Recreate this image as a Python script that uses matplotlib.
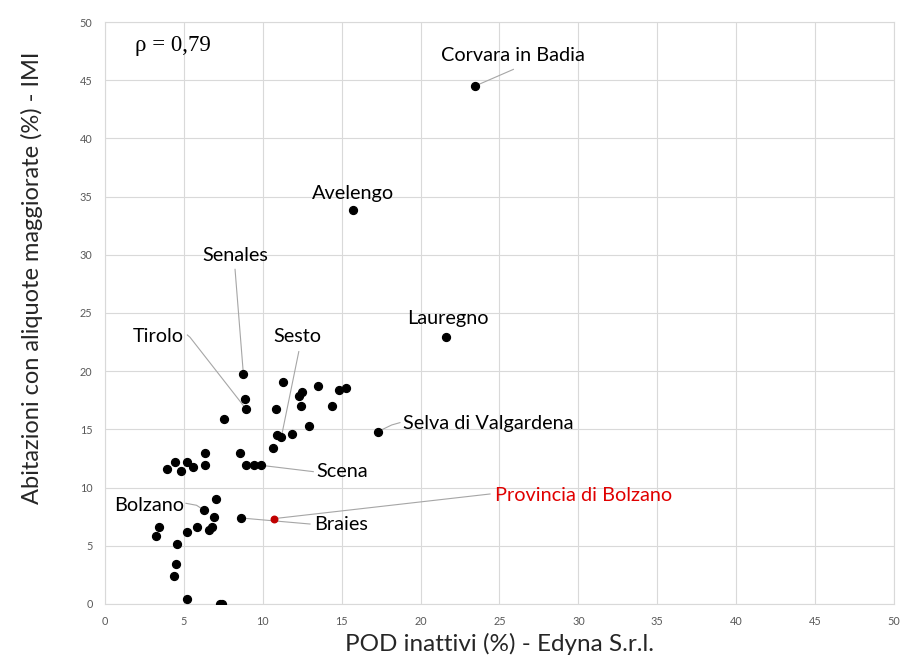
import matplotlib.pyplot as plt

# comuni: POD inattivi (%) vs abitazioni con aliquote maggiorate (%)
pod = [23.45, 15.72, 21.63, 17.28, 8.77, 8.87, 8.94, 7.54, 11.28, 12.27, 12.48, 13.52,
       14.81, 15.25, 10.84, 12.44, 14.40, 12.90, 10.88, 11.17, 11.85, 10.62, 8.55, 6.34,
       8.94, 9.46, 9.91, 3.91, 4.44, 4.79, 5.17, 5.60, 6.34, 7.03, 6.25, 6.93, 8.60,
       3.40, 3.21, 5.85, 6.76, 6.61, 5.22, 4.58, 4.48, 4.37, 5.17, 7.29, 7.43]
imi = [44.5, 33.85, 22.94, 14.80, 19.73, 17.58, 16.75, 15.89, 19.10, 17.90, 18.21, 18.73,
       18.41, 18.53, 16.75, 17.01, 17.01, 15.32, 14.52, 14.32, 14.58, 13.43, 13.00, 13.00,
       11.91, 11.91, 11.91, 11.60, 12.23, 11.40, 12.23, 11.74, 11.91, 9.02, 8.08, 7.50, 7.39,
       6.62, 5.87, 6.62, 6.62, 6.33, 6.19, 5.18, 3.41, 2.41, 0.46, 0.03, 0.03]

prov_x = 10.69
prov_y = 7.33

# etichette: nome, indice del punto, posizione testo
names = ["Corvara in Badia", "Avelengo", "Lauregno", "Selva di Valgardena", "Senales",
         "Tirolo", "Sesto", "Scena", "Braies", "Bolzano"]
idx = [0, 1, 2, 3, 4, 6, 19, 26, 36, 34]
lab_x = [25.86, 15.72, 21.70, 24.27, 8.24, 3.36, 12.17, 15.02, 14.95, 2.79]
lab_y = [47.16, 35.30, 24.54, 15.52, 29.90, 22.94, 22.94, 11.34, 6.79, 8.45]
# punti di attacco delle linee guida (None = nessuna linea)
lead = [[(25.88, 45.93)], None, None, [(18.69, 15.58), (18.17, 15.38)], [(8.24, 28.75)],
        [(5.22, 23.11), (5.39, 22.91)], [(12.28, 21.68)], [(13.2, 11.37)], [(12.99, 6.87)],
        [(5.13, 8.65), (5.8, 8.48)]]

plt.rcParams['font.family'] = ['Lato', 'DejaVu Sans']

fig = plt.figure(figsize=(9.03, 6.57), dpi=100)
ax = fig.add_axes([0.1163, 0.0807, 0.8737, 0.8858])

ax.set_xlim(0, 50)
ax.set_ylim(0, 50)
ax.set_xticks(range(0, 51, 5))
ax.set_yticks(range(0, 51, 5))
ax.grid(True, color='#d9d9d9', lw=0.8)
ax.set_axisbelow(True)
for s in ax.spines.values():
    s.set_color('#d9d9d9')
    s.set_linewidth(0.8)
ax.tick_params(length=0, labelsize=7.8, labelcolor='#595959', pad=9)

for i in range(len(names)):
    if lead[i] is None:
        continue
    px = [p[0] for p in lead[i]] + [pod[idx[i]]]
    py = [p[1] for p in lead[i]] + [imi[idx[i]]]
    ax.plot(px, py, color='#a6a6a6', lw=0.8, zorder=2)
ax.plot([24.4, prov_x], [9.45, prov_y], color='#a6a6a6', lw=0.8, zorder=2)

ax.scatter(pod, imi, s=32, color='black', zorder=3)
ax.scatter([prov_x], [prov_y], s=22, color='#c00000', zorder=3)

for i in range(len(names)):
    ax.text(lab_x[i], lab_y[i], names[i], fontsize=14.3, ha='center', va='center', color='black')
ax.text(30.3, 9.28, "Provincia di Bolzano", fontsize=14.3, ha='center', va='center', color='#e00000')

ax.text(4.3, 48.0, "ρ = 0,79", fontsize=16.5, ha='center', va='center',
        family=['Liberation Serif', 'DejaVu Serif'])

ax.set_xlabel("POD inattivi (%) - Edyna S.r.l.", fontsize=17.5, color='#262626', labelpad=4)
ax.set_ylabel("Abitazioni con aliquote maggiorate (%) - IMI", fontsize=17, color='#262626')
ax.yaxis.set_label_coords(-0.078, 0.56)

fig.savefig("out.png", dpi=100)
